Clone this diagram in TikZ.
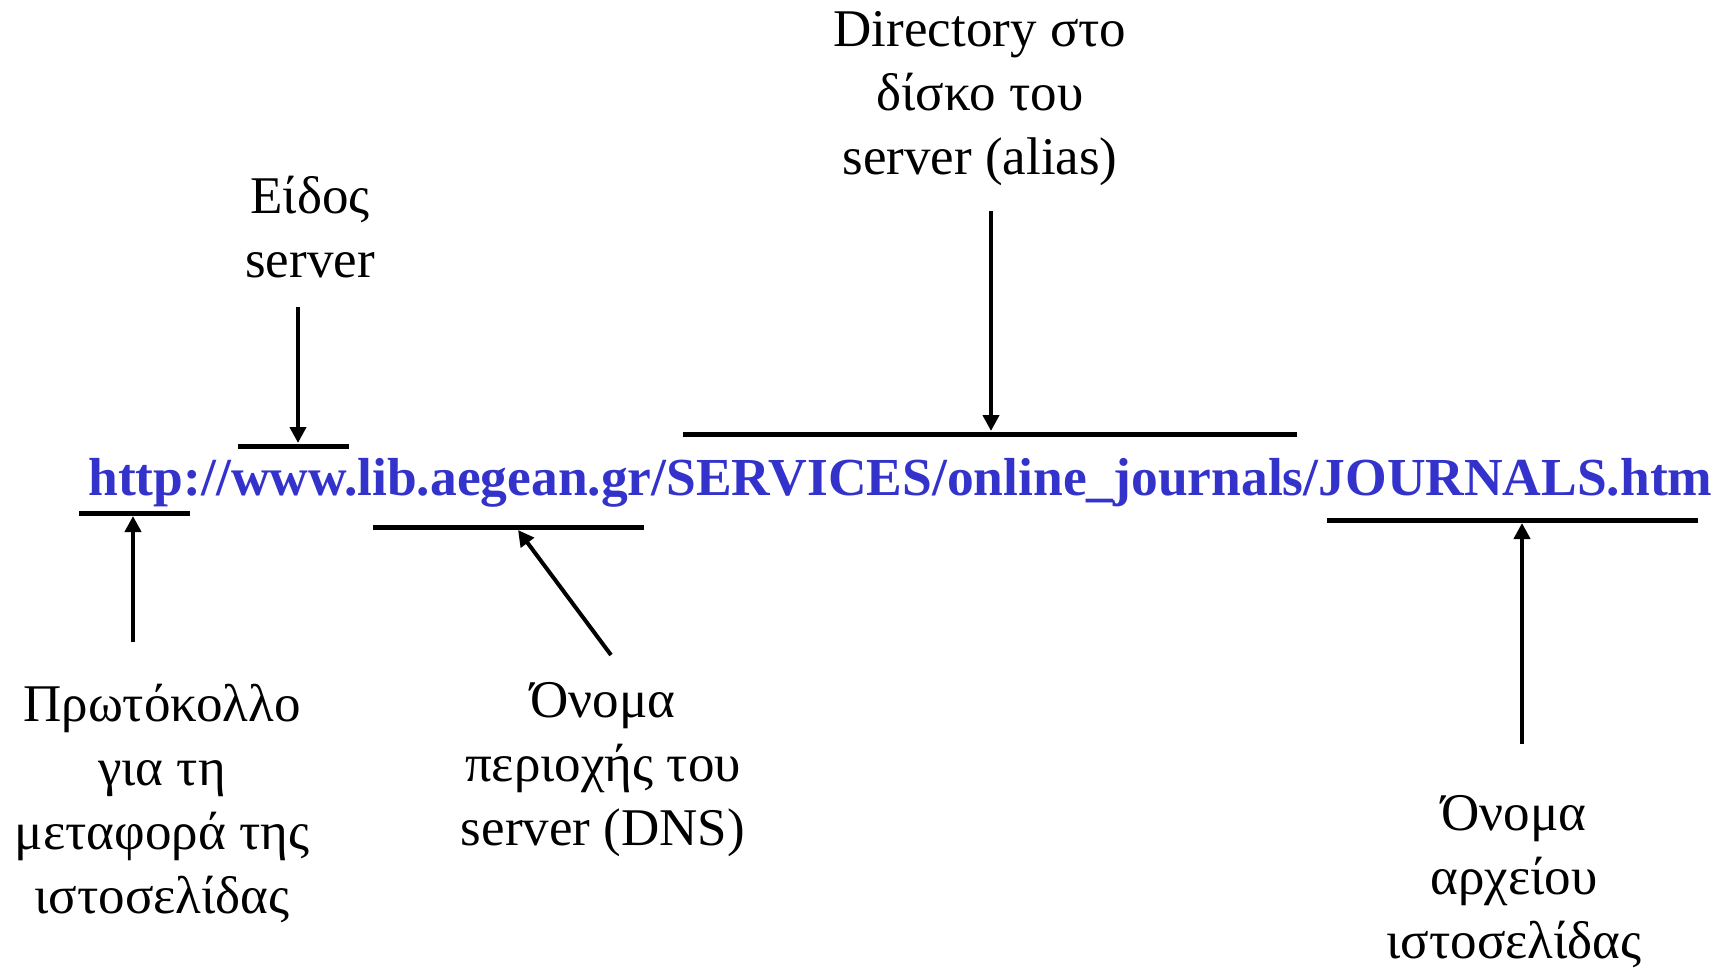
\documentclass[tikz,border=0pt]{standalone}
\usepackage{fontspec}
\setmainfont{Liberation Serif}
\usetikzlibrary{arrows.meta}
\definecolor{urlblue}{RGB}{51,51,204}
\begin{document}
\begin{tikzpicture}[x=0.5pt,y=-0.5pt,
  lbl/.style={align=center,inner sep=0pt,font=\fontsize{26.5}{32}\selectfont},
  bar/.style={line width=2.5pt},
  ptr/.style={line width=2pt,-{Triangle[length=8pt,width=8pt]}}]
\useasboundingbox (0,0) rectangle (1720,970);
% labels
\node[lbl] (dir) at (980,99) {Directory στο\\δίσκο του\\server (alias)};
\node[lbl] (eid) at (310,227) {Είδος\\server};
\node[lbl] (proto) at (162,803) {Πρωτόκολλο\\για τη\\μεταφορά της\\ιστοσελίδας};
\node[lbl] (dns) at (603,770) {Όνομα\\περιοχής του\\server (DNS)};
\node[lbl] (file) at (1514,882) {Όνομα\\αρχείου\\ιστοσελίδας};
\node[lbl,font=\fontsize{26.75}{32}\selectfont\bfseries,text=urlblue,anchor=base west] (url) at (88,495)
  {http://www.lib.aegean.gr/SERVICES/online\_journals/JOURNALS.htm};
% bars
\coordinate (dirL) at (683,434); \coordinate (dirR) at (1297,434);
\coordinate (eidL) at (238,446); \coordinate (eidR) at (349,446);
\coordinate (proL) at (79,513);  \coordinate (proR) at (190,513);
\coordinate (dnsL) at (373,527); \coordinate (dnsR) at (644,527);
\coordinate (filL) at (1327,520); \coordinate (filR) at (1698,520);
\draw[bar] (dirL) -- (dirR);
\draw[bar] (eidL) -- (eidR);
\draw[bar] (proL) -- (proR);
\draw[bar] (dnsL) -- (dnsR);
\draw[bar] (filL) -- (filR);
% arrows
\coordinate (dirS) at (991,211); \coordinate (dirE) at (991,431);
\coordinate (eidS) at (298,307); \coordinate (eidE) at (298,443);
\coordinate (proS) at (133,642); \coordinate (proE) at (133,516);
\coordinate (dnsS) at (611,655); \coordinate (dnsE) at (518,530);
\coordinate (filS) at (1522,744); \coordinate (filE) at (1522,523);
\draw[ptr] (dirS) -- (dirE);
\draw[ptr] (eidS) -- (eidE);
\draw[ptr] (proS) -- (proE);
\draw[ptr] (dnsS) -- (dnsE);
\draw[ptr] (filS) -- (filE);
\end{tikzpicture}
\end{document}
